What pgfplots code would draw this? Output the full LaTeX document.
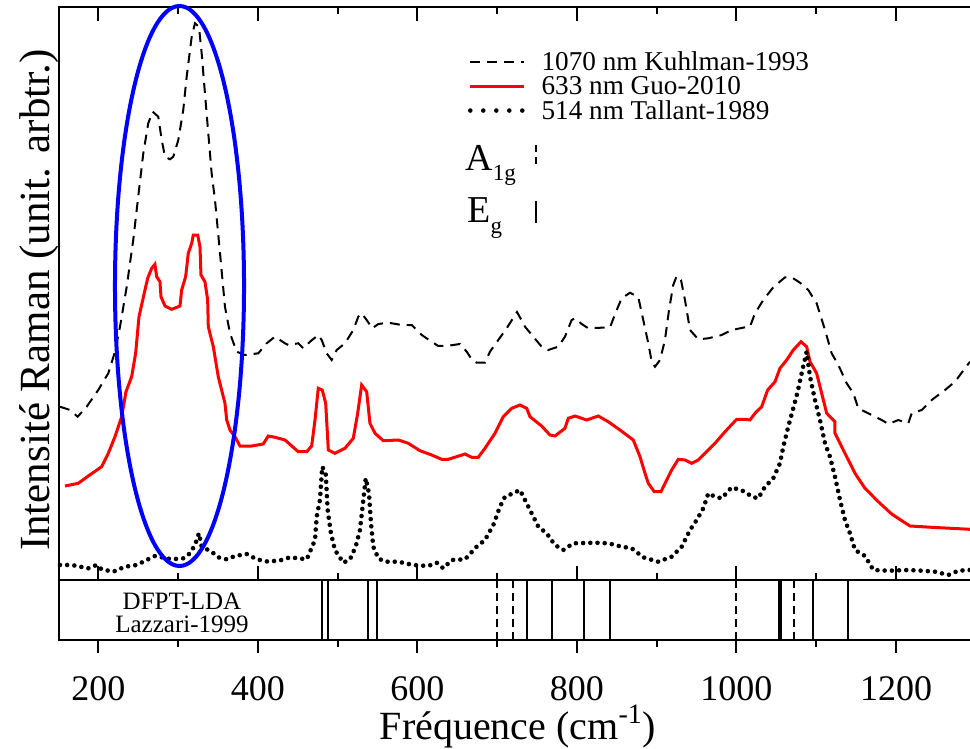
\documentclass[border=0pt]{standalone}
\usepackage{fontspec}
\setmainfont{Liberation Serif}
\usepackage{pgfplots}
\pgfplotsset{compat=1.18}

\begin{document}
\begin{tikzpicture}[x=1pt,y=1pt]
\useasboundingbox (0,0) rectangle (485,-374.5);
\begin{axis}[
  at={(29.3pt,-290pt)}, anchor=south west,
  scale only axis, width=456.7pt, height=286.5pt,
  xmin=150, xmax=1295.3, ymin=0, ymax=573,
  ytick=\empty,
  xtick={200,400,...,1200}, minor x tick num=1, xticklabels={},
  tick align=inside, xtick pos=both,
  major tick length=7pt, minor tick length=3.5pt,
  axis line style={line width=1pt},
  every tick/.style={black, line width=1pt},
  clip=false,
  ylabel={Intensité Raman (unit. arbtr.)},
  ylabel style={at={(axis description cs:0,0.5)}, anchor=south, inner sep=0pt, xshift=-3.3pt, font=\fontsize{21.5}{21.5}\selectfont},
  legend style={at={(axis description cs:0.4482,0.9262)}, anchor=north west, draw=none, fill=none,
    inner sep=0pt, outer sep=0pt, font=\fontsize{13.6}{13.6}\selectfont, row sep=0pt,
    nodes={inner sep=0pt, text height=10.6pt, text depth=1.65pt},
    /tikz/every odd column/.append style={column sep=7.5pt}},
  legend cell align=left,
  legend image code/.code={\draw[#1] (0pt,0pt) -- (27pt,0pt);},
]
% 1070 nm Kuhlman-1993
\addplot[black, line width=1pt, dash pattern=on 5pt off 3.5pt] table {
151.7 173.3
164.3 170
173.9 163.3
185.2 173.3
199.7 190
212.3 206.7
220.7 228.3
227.0 253.3
235.4 293.3
243.6 340
247.9 370
256.2 426.7
262.4 456.7
268.0 468.3
275.0 463.3
279.3 440
283.4 423.3
289.7 420.7
293.8 423.3
300.1 440
306.3 470
310.6 503.3
316.9 543.3
321.0 556.7
326.0 553.3
329.4 526.7
333.5 486.7
337.7 446.7
341.9 406.7
346.1 380
352.4 326.7
358.6 273.3
364.9 246.7
373.3 228.3
383.7 225
400.4 226.7
410.9 236.7
421.3 243.3
433.9 236.7
438.0 235
450.5 236.7
456.8 231.7
465.2 238.3
475.6 245
479.9 240
486.1 226.7
492.4 220
498.7 230
509.1 236.7
519.5 250
525.8 263.3
530.0 266.7
536.3 260
543.3 251.7
550.9 256
563.4 257.3
580.2 255
592.7 255
605.3 245
617.8 238.3
626.1 234
638.6 234.3
653.3 236
661.7 228.3
668.0 220.7
674.2 217.3
684.6 217.3
690.9 228.3
701.3 240
711.8 251.7
724.8 268
734.8 253.3
745.2 243.3
755.7 233.3
764.0 230
776.5 233.3
784.9 243.3
793.3 260
797.5 261.7
805.9 256
814.2 251.7
841.4 252.7
849.8 270
856.0 281.7
866.5 287.3
876.9 282.7
883.1 260
889.4 236.7
893.7 218.3
897.8 213.3
904.1 220
910.3 240
915.4 270
920.7 295
925.0 304
930.4 300
935.4 280
941.7 250
952.1 240.7
964.7 241.7
981.4 245
994.0 250
1010.7 252.7
1016.9 253.3
1023.2 266.7
1033.6 280
1046.1 292.7
1060.8 302.7
1069.2 302.7
1079.6 297.3
1090.0 290
1100.5 276.7
1111.0 250
1119.3 226.7
1127.7 215
1138.2 196.7
1146.5 186.7
1152.7 171.7
1165.3 166.7
1182.1 160
1190.4 156
1202.9 160
1215.4 156.7
1219.7 166.7
1232.2 170
1244.8 180
1261.5 190
1274.0 198.3
1286.5 211.7
1292.8 218.3
};
% 633 nm Guo-2010
\addplot[red, line width=1.5pt] table {
158.0 94
174.7 96.7
187.2 104
204.0 113.3
212.3 126.7
220.7 143.3
229.1 163.3
234.5 188.3
241.6 203.3
246.6 226.7
250.8 263.3
258.3 290
261.7 301.7
266.7 311.7
270.8 315.7
273.0 303.3
277.1 298.3
278.4 283.3
283.4 274
291.8 270.7
302.2 274
304.3 290
309.3 303.3
312.6 326.7
316.9 336.7
318.9 345
324.4 345
327.3 333.3
328.5 305
333.5 298.3
336.9 280
337.7 253.3
344.0 233.3
350.2 203.3
358.6 176.7
360.8 160
364.9 150
371.2 143.3
377.4 134
392.1 134
406.6 136
412.9 144
421.3 142.7
433.9 140
442.3 134
450.5 128.3
461.1 128.3
467.3 134
471.5 160
475.6 191.7
480.6 190
484.9 176.7
488.2 130
496.5 126.7
509.1 131.7
519.5 141.7
525.0 166.7
530.0 195
536.3 188.3
540.4 156.7
546.7 146.7
557.1 139.3
575.9 140
588.5 136.7
603.1 129.3
617.8 125
630.3 120.7
638.6 120.7
659.6 126
668.0 122.7
676.2 122.7
684.6 131.7
697.2 146.7
707.6 163.3
718.1 171.7
728.5 175
736.9 171.7
741.1 163.3
755.7 154
766.1 145
772.4 144
784.9 151.7
789.1 161.7
797.5 164
812.1 160
826.7 164
839.2 158.3
853.9 150
870.6 140
879.0 123.3
885.3 106.7
889.4 96.7
896.9 88.3
905.3 88.3
912.5 100
918.7 110
927.0 120.7
935.4 120
943.8 116.7
952.1 120
973.0 136.7
985.6 148.3
1000.2 160.7
1010.7 160.7
1016.9 160
1023.2 166.7
1031.6 173.3
1039.1 190
1048.3 198.3
1054.5 211.7
1062.9 220
1071.2 230
1080.9 238.3
1088.0 233.3
1092.2 218.3
1100.5 206.7
1106.8 186.7
1113.1 166.7
1123.5 158.3
1123.5 146.7
1136.0 126.7
1148.6 106.7
1161.1 91.7
1177.8 78.3
1194.6 66
1207.2 59.3
1217.6 54
1244.8 52.7
1292.8 50.7
};
% 514 nm Tallant-1989
\addplot[black, line width=2.3pt, line cap=round, dash pattern=on 0pt off 3.6pt,
  legend image code/.code={\draw[black, line width=2.3pt, line cap=round, dash pattern=on 0pt off 6.5pt] (0pt,0pt) -- (27pt,0pt);}] table {
151.7 15
166.4 15
187.2 11.7
197.7 15
204.0 10.7
218.6 8.3
233.2 13.3
247.9 15
260.4 20
270.8 24
279.2 22.7
291.8 20.7
306.3 21.7
314.7 26.7
321.0 35
326.0 46.7
329.4 33.3
341.9 28.3
350.2 22.7
360.8 20.7
371.2 24
385.8 26
398.4 20.7
412.9 18.3
429.7 20
440.1 22.7
450.5 21.7
461.1 20.7
465.2 28.3
471.5 40
473.6 63.3
477.7 80
480.6 113.3
484.9 106.7
487.4 70
491.5 46.7
496.5 30
507.0 17.3
515.4 20.7
522.5 33.3
527.9 50
532.1 80
535.1 101.7
539.2 86.7
541.7 56.7
544.6 33.3
550.9 21.7
559.3 18.3
575.9 18.3
594.7 15
613.5 14
624.1 17.3
632.3 11.7
642.9 20
659.6 20.7
674.2 33.3
684.6 40
695.1 55
703.4 73.3
709.7 83.3
720.1 86.7
728.5 90
741.1 70
751.5 53.3
762.0 46.7
772.4 35
782.8 30
795.4 36.7
822.6 37.3
839.2 36.7
856.0 33.3
868.6 31.7
883.1 22.7
901.9 18.3
918.7 23.3
931.3 33.3
941.7 50
950.1 60
958.4 71.7
964.7 86.7
973.0 83.3
981.4 81.7
994.0 92.7
1010.7 88.3
1019.1 83.3
1027.3 81.7
1035.7 93.3
1046.1 101.7
1054.5 116.7
1058.7 133.3
1064.9 153.3
1071.2 171.7
1076.7 188.3
1081.7 206.7
1088.0 228.3
1092.2 203.3
1098.4 180
1104.7 160
1111.0 136.7
1117.2 123.3
1123.5 103.3
1129.8 80
1136.0 60
1142.3 46.7
1148.6 30
1161.1 24
1171.6 10
1190.4 9.3
1215.4 10
1232.2 9.3
1248.9 8.3
1265.6 5
1278.1 9.3
1292.8 10
};
\legend{1070 nm Kuhlman-1993, 633 nm Guo-2010, 514 nm Tallant-1989}
% A1g / Eg key marks
\addplot[forget plot, black, line width=1pt, dash pattern=on 3.5pt off 2.5pt] coordinates {(748.6,435) (748.6,413)};
\addplot[forget plot, black, line width=1pt] coordinates {(748.6,379) (748.6,357)};
\node[anchor=base west, inner sep=0pt, font=\fontsize{19}{19}\selectfont] at (axis cs:659.6,410) {A\raisebox{-5.3pt}{\fontsize{11.5}{11.5}\selectfont 1g}};
\node[anchor=base west, inner sep=0pt, font=\fontsize{19}{19}\selectfont] at (axis cs:662,358) {E\raisebox{-6pt}{\fontsize{11.5}{11.5}\selectfont g}};
% highlight ellipse
\draw[blue, line width=2pt] (axis cs:301.6,294) ellipse [x radius=80.9, y radius=280];
\end{axis}

\begin{axis}[
  at={(29.3pt,-290pt)}, anchor=north west,
  scale only axis, width=456.7pt, height=30pt,
  xmin=150, xmax=1295.3, ymin=0, ymax=1,
  ytick=\empty,
  xtick={200,400,...,1200}, minor x tick num=1,
  tick align=outside, xtick pos=lower,
  major tick length=6.5pt, minor tick length=3.5pt,
  axis line style={line width=1pt},
  every tick/.style={black, line width=1pt},
  /pgf/number format/assume math mode=true,
  /pgf/number format/1000 sep={},
  xticklabel style={font=\fontsize{18}{18}\selectfont, anchor=base, yshift=-23.8pt},
  xlabel={Fréquence (cm\textsuperscript{-1})},
  xlabel style={at={(axis description cs:0.503,0)}, anchor=base, yshift=-49.5pt, inner sep=0pt, font=\fontsize{20}{20}\selectfont},
]
% Eg modes (solid)
\addplot[ycomb, black, line width=1pt, mark=none] coordinates {
(480,1) (488,1) (537.6,1) (548.8,1) (737.7,1) (768.7,1) (808.8,1) (841.4,1) (1052.9,1) (1055.8,1) (1096.3,1) (1139.4,1)};
% A1g modes (dashed)
\addplot[ycomb, black, line width=1pt, mark=none, dash pattern=on 4pt off 2.5pt] coordinates {
(700.1,1) (719.4,1) (999.4,1) (1072.1,1) (1096.3,1)};
\node[align=center, inner sep=0pt, font=\fontsize{12.5}{11.65}\selectfont] at (axis cs:304.7,0.45) {DFPT-LDA\\Lazzari-1999};
\end{axis}
\end{tikzpicture}
\end{document}
